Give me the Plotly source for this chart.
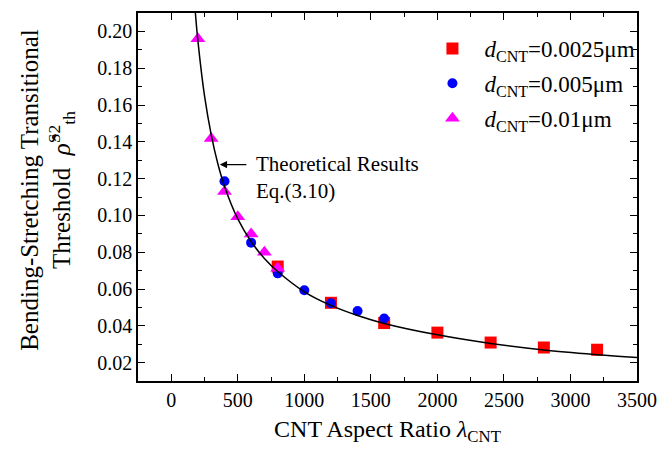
import plotly.graph_objects as go

# Theoretical curve
curve_x = [180, 200, 250, 300, 350, 400, 500, 600, 700, 800, 1000, 1200, 1400, 1600, 2000, 2400, 2800, 3200, 3500]
curve_y = [0.211, 0.195, 0.1649, 0.1439, 0.1281, 0.1159, 0.0981, 0.0858, 0.0766, 0.0695, 0.0585, 0.0511, 0.0456, 0.0413, 0.0351, 0.0304, 0.0268, 0.0243, 0.0228]

# d_CNT = 0.0025 um (red squares)
sq_x = [800, 1200, 1600, 2000, 2400, 2800, 3200]
sq_y = [0.0722, 0.0525, 0.0415, 0.0363, 0.0309, 0.0282, 0.0270]

# d_CNT = 0.005 um (blue circles)
ci_x = [400, 600, 800, 1000, 1200, 1400, 1600]
ci_y = [0.1186, 0.0852, 0.0685, 0.0593, 0.0523, 0.0480, 0.0440]

# d_CNT = 0.01 um (magenta triangles)
tr_x = [200, 300, 400, 500, 600, 700, 800]
tr_y = [0.196, 0.1418, 0.113, 0.0992, 0.0899, 0.0800, 0.0713]

x_ticks = [0, 500, 1000, 1500, 2000, 2500, 3000, 3500]
y_ticks = [0.02, 0.04, 0.06, 0.08, 0.10, 0.12, 0.14, 0.16, 0.18, 0.20]

FONT = "Liberation Serif, Times New Roman, serif"

fig = go.Figure()
fig.add_trace(go.Scatter(x=sq_x, y=sq_y, mode="markers", legendgroup="a",
                         marker=dict(symbol="square", size=12, color="#FF0000"),
                         name="<i>d</i><sub>CNT</sub>=0.0025μm"))
fig.add_trace(go.Scatter(x=ci_x, y=ci_y, mode="markers", legendgroup="b",
                         marker=dict(symbol="circle", size=10, color="#0000FF"),
                         name="<i>d</i><sub>CNT</sub>=0.005μm"))
fig.add_trace(go.Scatter(x=tr_x, y=tr_y, mode="markers", legendgroup="c",
                         marker=dict(symbol="triangle-up", size=13, color="#FF00FF"),
                         name="<i>d</i><sub>CNT</sub>=0.01μm"))
fig.add_trace(go.Scatter(x=curve_x, y=curve_y, mode="lines",
                         line=dict(color="black", width=1.5, shape="spline"),
                         showlegend=False))

axis_common = dict(showgrid=False, zeroline=False, showline=True, linecolor="black",
                   linewidth=1.5, mirror="ticks", ticks="inside", ticklen=7,
                   tickwidth=1.2, tickcolor="black",
                   tickfont=dict(family=FONT, size=20, color="black"))

fig.update_xaxes(range=[-250, 3500], tickvals=x_ticks,
                 minor=dict(ticks="inside", ticklen=4, tickcolor="black", dtick=250, tick0=0),
                 title=dict(text="CNT Aspect Ratio <i>λ</i><sub>CNT</sub>",
                            font=dict(family=FONT, size=24, color="black"), standoff=10),
                 **axis_common)
fig.update_yaxes(range=[0.01, 0.21], tickvals=y_ticks, tickformat=".2f",
                 minor=dict(ticks="inside", ticklen=4, tickcolor="black", dtick=0.01, tick0=0),
                 **axis_common)

fig.add_annotation(xref="paper", yref="paper", x=-0.182, y=0.52,
                   text="Bending-Stretching Transitional<br>Threshold  <i>ρ̂</i><sup>S2</sup><sub>th</sub>",
                   textangle=-90, showarrow=False, xanchor="center", yanchor="middle",
                   font=dict(family=FONT, size=25, color="black"))

fig.add_annotation(x=365, y=0.1276, ax=28, ay=0, text="", showarrow=True,
                   arrowhead=2, arrowsize=1.2, arrowwidth=1.2, arrowcolor="black")
fig.add_annotation(x=600, y=0.1276, xanchor="left", yanchor="middle", yshift=-13, xshift=3,
                   text="Theoretical Results<br>Eq.(3.10)", showarrow=False, align="left",
                   font=dict(family=FONT, size=21, color="black"))

fig.update_layout(
    width=668, height=453,
    margin=dict(l=138, r=25, t=11, b=72),
    paper_bgcolor="white", plot_bgcolor="white",
    font=dict(family=FONT, color="black"),
    legend=dict(x=0.566, y=0.962, xanchor="left", yanchor="top", itemwidth=54,
                bgcolor="rgba(0,0,0,0)", font=dict(family=FONT, size=23, color="black"),
                tracegroupgap=2),
)

fig.write_html("out.html")
